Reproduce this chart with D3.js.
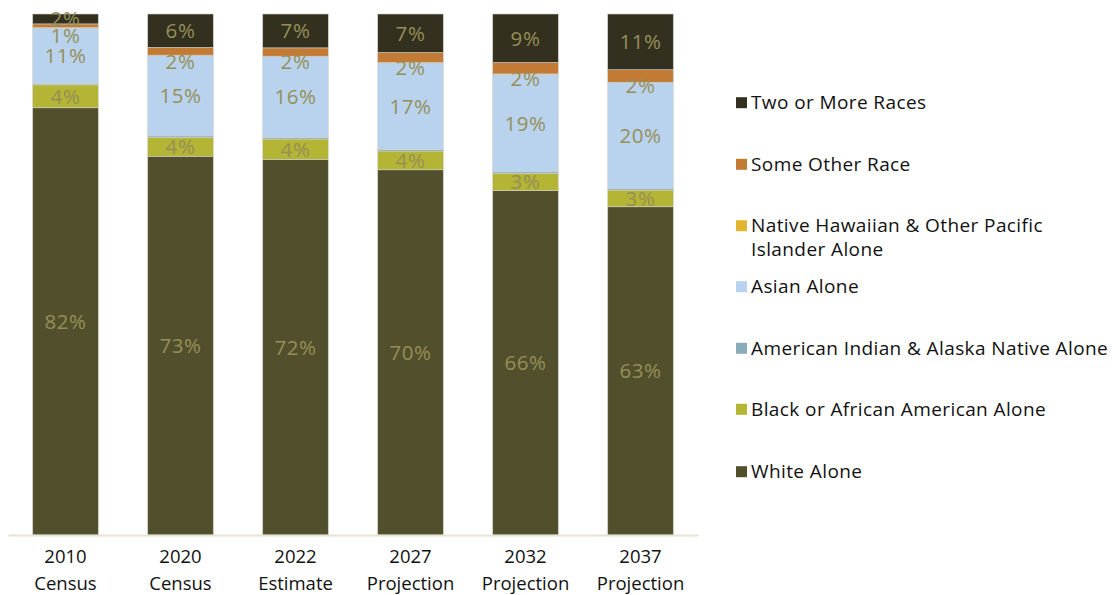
<!DOCTYPE html>
<html>
<head>
<meta charset="utf-8">
<script src="https://cdn.jsdelivr.net/npm/d3@7"></script>
<style>
  html, body { margin: 0; padding: 0; background: #ffffff; }
  svg { display: block; font-family: "Open Sans", "Noto Sans", sans-serif; }
</style>
</head>
<body>
<svg id="chart" width="1112" height="595"></svg>
<script>
// Population share by race, 2010 to 2037 (percent of total)
const years = ["2010", "2020", "2022", "2027", "2032", "2037"];
const periodTypes = ["Census", "Census", "Estimate", "Projection", "Projection", "Projection"];

const whiteAlone   = [82.0, 72.7, 72.1, 70.1, 66.1, 63.0];
const blackAlone   = [4.4, 3.6, 3.9, 3.6, 3.3, 3.2];
const amIndianAlone = [0.2, 0.3, 0.3, 0.3, 0.3, 0.3];
const asianAlone   = [10.7, 15.4, 15.5, 16.6, 18.7, 20.3];
const nhpiAlone    = [0.1, 0.1, 0.1, 0.1, 0.1, 0.1];
const otherRace    = [0.7, 1.5, 1.6, 1.9, 2.2, 2.4];
const twoOrMore    = [1.9, 6.4, 6.5, 7.4, 9.3, 10.7];

const seriesNames = [
  "White Alone",
  "Black or African American Alone",
  "American Indian & Alaska Native Alone",
  "Asian Alone",
  "Native Hawaiian & Other Pacific Islander Alone",
  "Some Other Race",
  "Two or More Races"
];
const seriesValues = [whiteAlone, blackAlone, amIndianAlone, asianAlone, nhpiAlone, otherRace, twoOrMore];
const seriesColors = ["#524f2d", "#b4b535", "#8aacb8", "#b9d3ee", "#e3b631", "#c27a35", "#333020"];
// Which series carry a value label inside the bar
const seriesLabeled = [true, true, false, true, false, true, true];
// Downward nudge for labels of thin segments so they stay readable
const labelNudge = [0, 0, 0, 0, 0, 10, 0];

const svg = d3.select("#chart");

const plot = { left: 8, right: 698, top: 14, bottom: 535 };

const x = d3.scaleBand()
  .domain(years)
  .range([plot.left, plot.right])
  .paddingInner(0.43)
  .paddingOuter(0.215);

const y = d3.scaleLinear()
  .domain([0, 100])
  .range([plot.bottom, plot.top]);

// Build stacked data
const rows = years.map((yr, i) => {
  const r = { year: yr };
  seriesNames.forEach((s, k) => { r[s] = seriesValues[k][i]; });
  return r;
});
const stacked = d3.stack().keys(seriesNames)(rows);

const barsG = svg.append("g");
stacked.forEach((layer, k) => {
  barsG.append("g")
    .attr("fill", seriesColors[k])
    .selectAll("rect")
    .data(layer)
    .join("rect")
    .attr("x", d => x(d.data.year))
    .attr("width", x.bandwidth())
    .attr("y", d => y(d[1]))
    .attr("height", d => y(d[0]) - y(d[1]))
    .attr("stroke", "#cfcfc8")
    .attr("stroke-width", 0.6);
});

// Value labels
const labelsG = svg.append("g")
  .attr("font-size", 20.5)
  .attr("letter-spacing", 0.6)
  .attr("fill", "#958f57")
  .attr("text-anchor", "middle");
stacked.forEach((layer, k) => {
  if (!seriesLabeled[k]) return;
  labelsG.append("g")
    .selectAll("text")
    .data(layer)
    .join("text")
    .attr("x", d => x(d.data.year) + x.bandwidth() / 2)
    .attr("y", d => (y(d[0]) + y(d[1])) / 2 + labelNudge[k])
    .attr("dy", "0.36em")
    .text(d => Math.round(d[1] - d[0]) + "%");
});

// Category axis baseline and labels
const xAxis = d3.axisBottom(x).tickSize(0).tickPadding(0);
const axisG = svg.append("g")
  .attr("transform", `translate(0,${plot.bottom})`)
  .call(xAxis);
axisG.select(".domain")
  .attr("stroke", "#e6e3d3")
  .attr("stroke-width", 2);
axisG.selectAll(".tick text").remove();
axisG.selectAll(".tick").each(function(d, i) {
  const t = d3.select(this).append("text")
    .attr("fill", "#111")
    .attr("font-size", 18.5)
    .attr("text-anchor", "middle")
    .attr("font-family", "\"Open Sans\", \"Noto Sans\", sans-serif");
  t.append("tspan").attr("x", 0).attr("y", 28).text(years[i]);
  t.append("tspan").attr("x", 0).attr("y", 55).text(periodTypes[i]);
});

// Legend (top entry is the top of the stack)
const legendOrder = seriesNames.map((n, k) => k).reverse();
const legendRows = [102.7, 164.3, 225.7, 286.7, 348.3, 409.3, 471.7];
const legendLines = {
  "Native Hawaiian & Other Pacific Islander Alone": ["Native Hawaiian & Other Pacific", "Islander Alone"]
};
const legendG = svg.append("g")
  .attr("font-size", 19)
  .attr("letter-spacing", 0.4)
  .attr("fill", "#111");
legendOrder.forEach((k, r) => {
  const cy = legendRows[r];
  legendG.append("rect")
    .attr("x", 736).attr("y", cy - 5.5)
    .attr("width", 11).attr("height", 11)
    .attr("fill", seriesColors[k]);
  const lines = legendLines[seriesNames[k]] || [seriesNames[k]];
  const t = legendG.append("text").attr("x", 751);
  lines.forEach((ln, j) => {
    t.append("tspan").attr("x", 751).attr("y", cy + j * 23.6).attr("dy", "0.35em").text(ln);
  });
});
</script>
</body>
</html>
